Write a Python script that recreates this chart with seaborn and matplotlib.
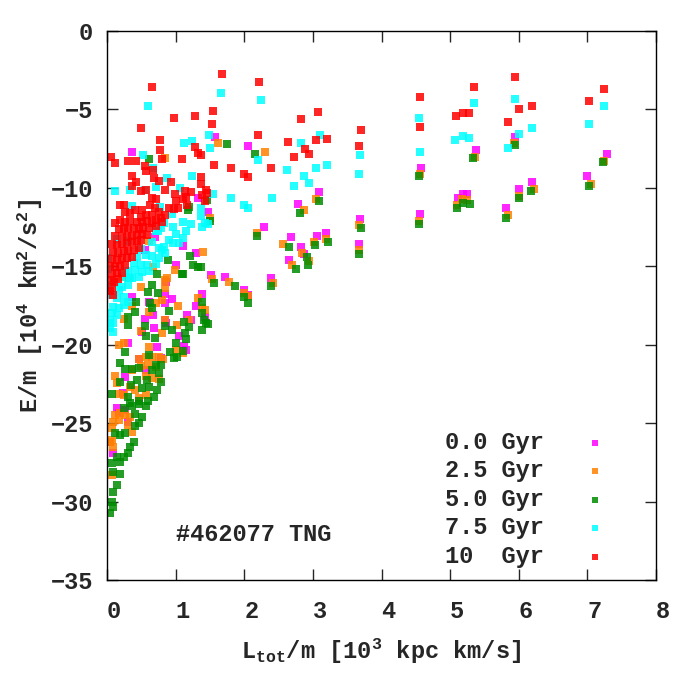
import matplotlib
matplotlib.use("Agg")
import matplotlib.pyplot as plt
import matplotlib.transforms as mtransforms
import seaborn as sns
import pandas as pd

# L_tot/m [10^3 kpc km/s], E/m [10^4 km^2/s^2], one pair of lists per snapshot
L_00 = [1.58, 2.06, 1.47, 2.28, 2.78, 3.09, 2.68, 2.82, 3.06, 3.19, 2.65, 2.87, 3.68, 3.67,
        4.57, 4.56, 5.38, 5.12, 5.19, 5.25, 5.95, 6.01, 6.20, 5.82, 7.00, 7.29, 1.52, 1.72,
        1.99, 2.05, 2.39, 1.38,
        0.37, 1.33, 0.70, 1.11, 1.29, 1.01, 0.55, 0.86, 0.95, 0.61, 1.30, 1.17, 0.67, 0.55,
        0.84, 0.68, 1.05, 0.84, 0.84, 0.36, 0.86, 1.22, 0.51, 1.43, 0.31, 0.73, 1.15, 0.46,
        0.78, 0.26, 0.23, 0.56, 0.14, 0.26, 0.31, 0.04, 0.09, 0.18, 1.12]
E_00 = [-6.78, -7.35, -11.56, -12.51, -11.05, -10.28, -13.15, -13.79, -13.08, -12.87, -14.61, -14.23, -12.00, -13.60,
        -8.75, -11.68, -7.60, -10.66, -10.41, -10.41, -6.78, -10.09, -9.64, -11.30, -9.26, -7.86, -15.57, -15.70,
        -16.53, -16.85, -15.76, -16.78,
        -7.73, -10.68, -13.11, -13.70, -14.17, -14.91, -13.96, -16.02, -17.10, -17.29, -17.53, -18.12, -18.12, -18.38,
        -18.44, -18.95, -19.46, -16.76, -17.36, -16.97, -18.59, -18.42, -19.16, -18.21, -19.86, -20.16, -20.33, -20.92,
        -20.86, -22.03, -23.09, -21.60, -24.05, -24.16, -24.90, -26.17, -26.92, -24.37, -20.08]

L_25 = [1.62, 2.30, 1.50, 2.18, 2.87, 3.04, 2.57, 2.84, 3.02, 3.19, 2.69, 2.95, 3.67, 3.67,
        4.56, 4.54, 5.37, 5.10, 5.17, 5.25, 5.93, 6.00, 6.22, 5.84, 7.05, 7.25, 1.53, 1.77,
        1.99, 2.05, 2.42, 1.40, 1.39,
        0.85, 0.99, 0.88, 0.61, 0.67, 0.21, 0.84, 0.49, 0.84, 0.36, 0.61, 0.71, 0.80, 1.04,
        1.33, 1.42, 0.24, 0.50, 0.85, 1.02, 1.19, 0.80, 0.17, 0.24, 0.61, 1.00, 1.10,
        0.46, 0.56, 0.65, 0.75, 0.82, 0.50, 0.60, 0.71, 0.11, 0.14, 0.36, 0.56, 0.66, 0.75,
        0.17, 0.24, 0.41, 0.56, 0.46, 0.34, 0.12, 0.19, 0.26, 0.34, 0.09, 0.17, 0.07, 0.31,
        0.36, 0.07, 0.09, 0.04, 0.07]
E_25 = [-7.16, -7.73, -11.92, -12.90, -11.43, -10.73, -13.60, -14.17, -13.47, -13.28, -14.93, -14.68, -12.38, -13.98,
        -9.14, -12.13, -8.05, -11.11, -10.73, -10.79, -7.16, -10.54, -10.09, -11.75, -9.77, -8.30, -15.83, -16.02,
        -16.72, -16.91, -16.08, -14.10, -17.68,
        -8.11, -15.23, -15.76, -13.36, -15.02, -15.66, -15.89, -16.30, -16.40, -17.53, -17.89, -17.36, -17.15, -17.53,
        -17.04, -17.78, -18.38, -19.10, -18.42, -18.74, -18.42, -19.23, -20.01, -19.91, -20.16, -20.33, -20.54,
        -20.90, -20.80, -20.75, -20.80, -20.90, -21.35, -21.30, -21.40, -21.99, -22.46, -21.60, -22.00, -22.10, -22.20,
        -23.14, -23.20, -22.88, -23.20, -23.41, -22.67, -24.47, -24.37, -24.47, -24.58, -24.90, -24.79, -25.32, -25.11,
        -25.54, -26.07, -26.49, -26.17, -28.30]

L_50 = [1.75, 2.15, 1.46, 2.18, 2.81, 3.09, 1.50, 2.65, 2.92, 3.03, 3.22, 2.75, 2.93, 3.70,
        3.67, 4.54, 4.54, 5.34, 5.10, 5.19, 5.29, 5.94, 6.00, 6.18, 5.82, 7.02, 7.23, 1.56,
        1.86, 1.99, 2.05, 2.39, 1.37, 1.38,
        0.61, 1.20, 1.18, 0.89, 1.21, 1.25, 1.33, 1.09, 0.73, 0.65, 0.59, 0.74, 1.39, 0.90,
        0.42, 0.40, 0.31, 0.30, 0.84, 0.95, 1.12, 1.20, 0.56, 0.70, 0.32, 1.10, 0.62, 0.65,
        1.38, 1.44, 0.55, 1.14, 1.15, 1.01, 0.26, 0.19, 0.91, 1.10, 0.61, 0.97, 1.02, 0.71,
        0.78, 0.66, 0.36, 0.46, 0.26, 0.75, 0.78, 0.44, 0.58, 0.19, 0.35, 0.51, 0.61, 0.73,
        0.68, 0.07, 0.31, 0.46, 0.56, 0.37, 0.34, 0.47, 0.60, 0.24, 0.41, 0.51, 0.46, 0.41,
        0.12, 0.19, 0.26, 0.39, 0.34, 0.31, 0.24, 0.19, 0.14, 0.07, 0.09, 0.19, 0.14, 0.09,
        0.07, 0.09, 0.04, 1.41, 1.47]
E_50 = [-7.22, -7.86, -10.79, -13.08, -11.62, -10.85, -12.13, -13.79, -14.42, -13.66, -13.47, -15.19, -14.93, -12.58,
        -14.23, -9.26, -12.32, -8.11, -11.30, -10.98, -11.05, -7.29, -10.66, -10.22, -11.94, -9.90, -8.37, -16.08,
        -16.27, -16.97, -17.36, -16.27, -15.06, -17.29,
        -8.16, -11.24, -11.43, -14.61, -14.36, -14.93, -15.06, -15.51, -15.51, -16.21, -16.65, -16.72, -17.99, -17.87,
        -17.29, -17.93, -18.25, -18.76, -18.82, -19.08, -18.53, -18.85, -19.46, -19.59, -15.77, -15.49, -17.36, -17.67,
        -19.06, -18.63, -18.80, -19.27, -19.65, -19.91, -20.46, -21.18, -20.44, -20.37, -20.65, -20.86, -20.80, -21.29,
        -21.29, -21.60, -21.56, -21.50, -21.56, -21.82, -22.35, -22.24, -22.24, -22.35, -22.56, -22.77, -22.67, -22.88,
        -23.31, -23.14, -23.30, -23.60, -23.90, -23.90, -23.70, -23.75, -23.60, -24.00, -24.40, -24.60, -25.00, -25.20,
        -25.64, -25.75, -25.60, -26.18, -26.50, -26.90, -27.13, -27.45, -27.13, -27.55, -28.09, -28.20, -28.90, -29.36,
        -30.00, -30.30, -30.74, -18.42, -18.69]

L_75 = [1.66, 2.24, 1.49, 1.50, 2.20, 1.81, 1.99, 2.05, 2.40, 1.55, 2.62, 2.83, 2.73, 2.87,
        2.95, 3.05, 3.11, 3.21, 3.68, 3.67, 4.54, 4.56, 5.07, 5.19, 5.28, 5.35, 5.95, 6.01,
        6.19, 5.84, 7.02, 7.25,
        0.59, 1.12, 1.24, 0.52, 0.67, 0.87, 1.24, 0.11, 0.34, 0.55, 0.71, 1.06, 0.36, 0.77,
        0.95, 1.37, 1.37, 1.39, 1.43, 1.47, 1.11, 1.22, 0.96, 1.00, 1.15, 0.83, 0.74, 0.90,
        0.96, 1.11, 1.05, 0.15, 0.65, 0.50, 0.75, 0.83, 0.30, 0.72, 0.78, 0.80, 0.85, 0.44,
        0.56, 0.66, 0.75, 0.39, 0.49, 0.58, 0.71, 0.31, 0.41, 0.51, 0.61, 0.28, 0.36, 0.46,
        0.02, 0.26, 0.34, 0.12, 0.22, 0.31, 0.17, 0.07, 0.14, 0.24, 0.31, 0.09, 0.17, 0.24,
        0.07, 0.14, 0.04, 0.09, 0.04, 0.09, 0.01, 0.02]
E_75 = [-3.97, -4.42, -6.65, -7.48, -8.24, -10.66, -11.11, -11.30, -10.66, -10.41, -8.88, -7.14, -9.90, -9.26,
        -9.71, -8.75, -6.65, -8.56, -7.92, -9.14, -5.57, -7.73, -6.97, -6.71, -6.84, -4.61, -4.35, -6.58,
        -6.20, -7.48, -5.95, -4.80,
        -4.80, -7.16, -7.03, -7.92, -8.75, -9.39, -9.26, -10.22, -10.15, -10.15, -9.96, -10.03, -11.17, -11.24,
        -11.68, -11.30, -11.81, -12.51, -12.26, -12.32, -12.19, -12.32, -12.51, -12.96, -12.77, -12.26, -12.77, -13.34,
        -13.53, -13.21, -13.53, -13.28, -13.47, -13.91, -13.85, -13.75, -13.36, -12.73, -12.58, -13.96, -14.17, -14.38,
        -14.28, -14.34, -14.49, -14.81, -14.91, -14.91, -14.85, -15.30, -15.25, -15.35, -15.30, -15.70, -15.72, -15.66,
        -14.49, -15.30, -15.77, -16.08, -16.30, -16.19, -16.51, -16.83, -17.04, -16.93, -17.25, -17.57, -17.67, -17.46,
        -17.99, -18.10, -18.42, -18.63, -18.95, -19.16, -16.20, -15.20]

L_10 = [1.67, 2.21, 1.55, 1.53, 2.20, 1.56, 1.80, 1.99, 2.05, 2.39, 2.82, 3.08, 2.63, 2.72,
        2.89, 2.95, 3.05, 3.21, 3.70, 3.67, 4.56, 4.56, 5.09, 5.19, 5.28, 5.35, 5.95, 6.01,
        6.19, 5.84, 7.02, 7.25,
        0.66, 0.98, 1.28, 0.49, 0.77, 0.77, 1.28, 1.33, 1.37, 0.06, 0.11, 0.30, 0.42, 0.80,
        1.09, 0.55, 0.57, 0.67, 0.36, 0.42, 0.36, 0.68, 0.75, 0.93, 1.37, 1.37, 0.50, 0.56,
        0.84, 0.99, 1.13, 1.23, 1.11, 1.01, 1.15, 1.44, 1.45, 1.39, 1.43, 0.66, 0.72, 0.63,
        0.70, 0.75, 0.90, 0.98, 1.04, 1.17, 0.19, 0.25, 0.26, 0.34, 0.41, 0.51, 0.50, 0.56,
        0.66, 0.71, 0.78, 0.85, 0.80, 0.12, 0.19, 0.26, 0.34, 0.44, 0.51, 0.58, 0.66,
        0.17, 0.24, 0.31, 0.39, 0.46, 0.53, 0.61, 0.71,
        0.12, 0.22, 0.29, 0.36, 0.44, 0.51, 0.58,
        0.07, 0.14, 0.22, 0.29, 0.36, 0.44, 0.49,
        0.09, 0.16, 0.24, 0.31, 0.39, 0.46,
        0.07, 0.14, 0.22, 0.29, 0.36,
        0.04, 0.12, 0.19, 0.26,
        0.07, 0.14, 0.22,
        0.04, 0.10, 0.16, 0.07, 0.04, 0.09]
E_10 = [-2.76, -3.27, -5.12, -5.95, -6.65, -8.56, -8.75, -9.14, -9.33, -8.75, -5.63, -5.18, -7.09, -8.05,
        -7.54, -7.86, -6.97, -6.90, -6.33, -7.35, -4.23, -6.14, -5.44, -5.25, -5.25, -3.59, -2.95, -4.99,
        -4.80, -5.82, -4.48, -3.72,
        -3.59, -5.56, -5.44, -6.20, -6.97, -7.60, -7.41, -7.80, -7.92, -8.05, -8.43, -8.30, -8.30, -8.18,
        -8.18, -8.62, -8.94, -8.86, -9.26, -9.64, -9.90, -9.39, -9.58, -9.64, -9.33, -9.77, -10.18, -10.13,
        -10.13, -10.39, -10.18, -10.24, -10.73, -10.83, -10.56, -10.13, -10.35, -10.45, -10.81, -10.66, -10.73, -11.09,
        -11.26, -11.52, -11.30, -11.37, -11.30, -11.11, -11.09, -11.09, -11.52, -11.62, -11.41, -11.41, -11.83, -11.73,
        -11.73, -12.05, -11.94, -11.73, -12.15, -12.22, -12.05, -12.15, -12.10, -12.18, -12.15, -12.12, -12.26,
        -12.60, -12.55, -12.65, -12.58, -12.62, -12.50, -12.57, -12.45,
        -13.10, -13.05, -13.15, -13.08, -13.02, -12.95, -12.98,
        -13.60, -13.65, -13.55, -13.50, -13.45, -13.38, -13.30,
        -14.10, -14.15, -14.05, -14.00, -13.95, -13.85,
        -14.55, -14.60, -14.50, -14.45, -14.40,
        -15.00, -15.05, -14.95, -14.90,
        -15.50, -15.45, -15.40,
        -15.90, -16.00, -15.80, -16.30, -16.60, -16.80]

labels = ["0.0 Gyr", "2.5 Gyr", "5.0 Gyr", "7.5 Gyr", "10  Gyr"]
colors = ["#ff00ff", "#ff8000", "#008c00", "#00ffff", "#ff0000"]
series = [(L_00, E_00), (L_25, E_25), (L_50, E_50), (L_75, E_75), (L_10, E_10)]

sns.set_style("ticks")
plt.rcParams["font.family"] = ["Liberation Mono", "DejaVu Sans Mono"]
plt.rcParams["font.weight"] = "bold"
plt.rcParams["axes.labelweight"] = "bold"
plt.rcParams["mathtext.fontset"] = "custom"
plt.rcParams["mathtext.rm"] = "Liberation Mono:bold"
plt.rcParams["mathtext.it"] = "Liberation Mono:bold"
plt.rcParams["mathtext.bf"] = "Liberation Mono:bold"
plt.rcParams["mathtext.default"] = "rm"

fig = plt.figure(figsize=(7, 7), dpi=100)
ax = fig.add_axes([0.153, 0.171, 0.784, 0.785])

for (lx, ey), lab, col in zip(series, labels, colors):
    df = pd.DataFrame({"L": lx, "E": ey})
    sns.scatterplot(data=df, x="L", y="E", ax=ax, color=col, marker="s", s=30,
                    linewidth=0, alpha=0.85, label=lab)

ax.set_xlim(0, 8)
ax.set_ylim(-35, 0)
ax.set_xticks(range(0, 9))
ax.set_yticks(range(-35, 1, 5))
ax.tick_params(direction="in", top=True, right=True, length=8, width=1,
               labelsize=17, pad=10)
ax.tick_params(axis="x", pad=14)
for sp in ax.spines.values():
    sp.set_linewidth(1.0)
    sp.set_color("black")

# gnuplot-style: x tick labels sit a little right of their ticks
shift = mtransforms.ScaledTranslation(7 / 100, 0, fig.dpi_scale_trans)
for lbl in ax.get_xticklabels():
    lbl.set_transform(lbl.get_transform() + shift)

ax.set_xlabel(r"L$_{tot}$/m [10$^{3}$ kpc km/s]", fontsize=17, fontweight="bold", labelpad=10)
ax.set_ylabel(r"E/m [10$^{4}$ km$^{2}$/s$^{2}$]", fontsize=17, fontweight="bold", labelpad=4)

ax.text(1.0, -32.1, "#462077 TNG", fontsize=17, ha="left", va="center", fontweight="bold")

ax.legend(loc="upper left", bbox_to_anchor=(0.615, 0.272), frameon=False,
          markerfirst=False, fontsize=17, handletextpad=1.2, handlelength=2.0,
          labelspacing=0.235, borderpad=0, borderaxespad=0, markerscale=0.75)

plt.savefig("out.png", dpi=100)
